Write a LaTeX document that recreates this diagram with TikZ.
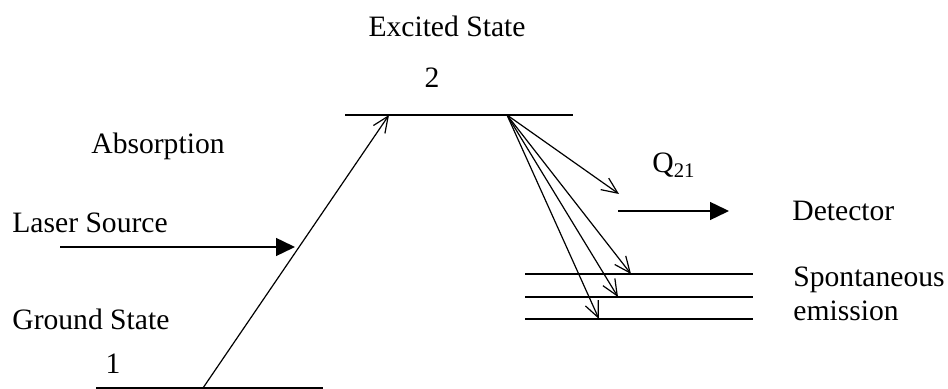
\documentclass[tikz,border=0pt]{standalone}
\usepackage{fontspec}
\setmainfont{Liberation Serif}
\usetikzlibrary{arrows.meta}
\tikzset{
  level/.style={line width=0.9pt},
  photon/.style={line width=0.6pt, -{Straight Barb[length=8pt,width=7pt]}},
  beam/.style={line width=0.7pt, -{Triangle[length=9.5pt,width=9pt]}},
  txt/.style={inner sep=0pt, font=\fontsize{14.8}{17}\selectfont}
}
\begin{document}
\begin{tikzpicture}[x=0.5pt,y=-0.5pt]
  \useasboundingbox (0,0) rectangle (948,389);
  % energy levels
  \draw[level] (345,115) coordinate (up-l) -- (573,115) coordinate (up-r);
  \draw[level] (96,388) coordinate (gd-l) -- (323,388) coordinate (gd-r);
  \draw[level] (525,274) coordinate (s1-l) -- (753,274) coordinate (s1-r);
  \draw[level] (525,297) coordinate (s2-l) -- (753,297) coordinate (s2-r);
  \draw[level] (525,319) coordinate (s3-l) -- (753,319) coordinate (s3-r);
  % texts
  \node[txt, anchor=base] (excited) at (447,37) {Excited State};
  \node[txt, anchor=base] (two) at (432,88) {2};
  \node[txt, anchor=base west] (absorb) at (91,154) {Absorption};
  \node[txt, anchor=base west] (laser) at (12,233) {Laser Source};
  \node[txt, anchor=base west] (ground) at (12,330) {Ground State};
  \node[txt, anchor=base] (one) at (113,374) {1};
  \node[txt, anchor=base west] (q21) at (652,173) {Q\textsubscript{21}};
  \node[txt, anchor=base west] (detector) at (792,221) {Detector};
  \node[txt, anchor=base west] (spont) at (793,287) {Spontaneous};
  \node[txt, anchor=base west] (emis) at (793,321) {emission};
  % arrow ends
  \coordinate (pump-s) at (203,388);
  \coordinate (pump-e) at (389,115);
  \coordinate (decay) at (507,115);
  \coordinate (q-e) at (619,194);
  \coordinate (e1) at (631,274);
  \coordinate (e2) at (618,297);
  \coordinate (e3) at (599,319);
  \coordinate (las-s) at (60,247);
  \coordinate (las-e) at (295,247);
  \coordinate (det-s) at (618,211);
  \coordinate (det-e) at (729,211);
  % transitions
  \draw[photon] (pump-s) -- (pump-e);
  \draw[photon] (decay) -- (q-e);
  \foreach \e in {e1,e2,e3}
    \draw[photon] (decay) -- (\e);
  \draw[beam] (las-s) -- (las-e);
  \draw[beam] (det-s) -- (det-e);
\end{tikzpicture}
\end{document}
